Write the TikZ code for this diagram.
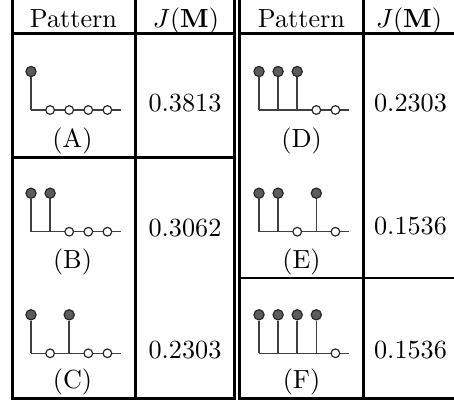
\documentclass[tikz,border=0pt]{standalone}
\usepackage{amsmath}

\definecolor{sitegray}{rgb}{0.36,0.36,0.36}
\definecolor{bondgray}{rgb}{0.25,0.25,0.25}

\tikzset{
	rule/.style={line width=1.1pt},
	bond/.style={draw=bondgray,line width=0.6pt},
	fullsite/.style={circle,draw=black!85,fill=sitegray,line width=0.45pt,inner sep=0pt,minimum size=3.9pt},
	emptysite/.style={circle,draw=black!85,fill=white,line width=0.45pt,inner sep=0pt,minimum size=3.3pt}
}

% #1 name, #2 first site x, #3 baseline y, #4 sites (1 = raised, 0 = on the line)
\newcommand{\chainpattern}[4]{
	\coordinate (#1s) at (#2,#3);
	\coordinate (#1e) at (#2+90.4,#3);
	\draw[bond] (#1s) -- (#1e);
	\foreach \kind [count=\k from 0] in {#4} {
		\coordinate (#1b\k) at (#2+19.1*\k,#3);
		\ifnum\kind=1
			\node[fullsite] (#1t\k) at (#2+19.1*\k,#3-38.5) {};
			\draw[bond] (#1t\k) -- (#1b\k);
		\else
			\node[emptysite] (#1o\k) at (#1b\k) {};
		\fi
	}
}

\begin{document}
\begin{tikzpicture}[x=0.3817pt,y=-0.3817pt]
				\useasboundingbox (0,0) rectangle (454,400);
				% rules of the table
				\foreach \xr in {12.5,135.5,234.5,239.5,363.8}
					\draw[rule] (\xr,0) -- (\xr,400);
				\draw[rule] (12.5,33.7) -- (234.5,33.7);
				\draw[rule] (239.5,33.7) -- (454,33.7);
				\draw[rule] (12.5,157.5) -- (234.5,157.5);
				\draw[rule] (239.5,278) -- (454,278);
				\draw[rule] (12.5,398.5) -- (234.5,398.5);
				\draw[rule] (239.5,398.5) -- (454,398.5);
				% header
				\node[anchor=base] (headpatl) at (73.5,27) {Pattern};
				\node[anchor=base] (headjl) at (186,27) {$J(\mathbf{M})$};
				\node[anchor=base] (headpatr) at (301.5,27) {Pattern};
				\node[anchor=base] (headjr) at (409,27) {$J(\mathbf{M})$};
				% patterns
				\chainpattern{pa}{31}{110}{1,0,0,0,0}
				\chainpattern{pb}{31}{231.7}{1,1,0,0,0}
				\chainpattern{pc}{31}{353.3}{1,0,1,0,0}
				\chainpattern{pd}{259}{110}{1,1,1,0,0}
				\chainpattern{pe}{259}{231.7}{1,1,0,1,0}
				\chainpattern{pf}{259}{353.3}{1,1,1,1,0}
				\node (laba) at (72.5,141) {(A)};
				\node (labb) at (72.5,262) {(B)};
				\node (labc) at (72.5,381.5) {(C)};
				\node (labd) at (301.5,141) {(D)};
				\node (labe) at (301.5,262) {(E)};
				\node (labf) at (301.5,381.5) {(F)};
				% values
				\node (vala) at (185,103.3) {0.3813};
				\node (valb) at (185,228.3) {0.3062};
				\node (valc) at (185,350) {0.2303};
				\node (vald) at (410.5,103.3) {0.2303};
				\node (vale) at (410.5,226) {0.1536};
				\node (valf) at (410.5,350) {0.1536};
			\end{tikzpicture}
\end{document}
